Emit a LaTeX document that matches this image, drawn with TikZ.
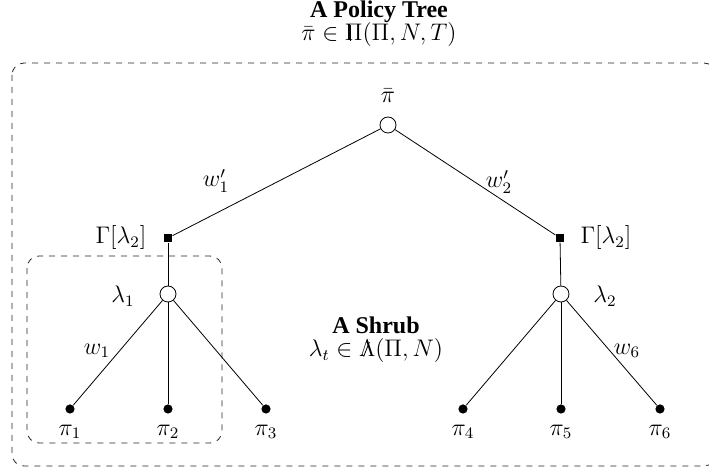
\documentclass[tikz,border=0pt]{standalone}
\usepackage{fontspec}
\setmainfont{Liberation Serif}
% double-struck capitals built from the upright Greek letters
\newcommand{\dsPi}{\mathord{\tikz[baseline=(s.base)]{\node[inner sep=0pt,outer sep=0pt] (s) {$\Pi$}; \draw[line width=0.4pt] ([xshift=0.24em,yshift=0.01em]s.base west) -- ++(0,0.66em);}}}
\newcommand{\dsLambda}{\mathord{\tikz[baseline=(s.base)]{\node[inner sep=0pt,outer sep=0pt] (s) {$\Lambda$}; \draw[line width=0.4pt] ([xshift=0.19em,yshift=0.01em]s.base west) -- ++(0.24em,0.6em);}}}
\begin{document}
\begin{tikzpicture}[x=0.5pt,y=-0.5pt,
  every node/.style={font=\large},
  choice/.style={circle,draw,fill=white,minimum size=8pt,inner sep=0pt},
  gate/.style={rectangle,fill=black,minimum size=4.2pt,inner sep=0pt},
  leaf/.style={circle,fill=black,minimum size=4.6pt,inner sep=0pt},
  lbl/.style={inner sep=1pt},
  caption/.style={inner sep=0pt,align=center},
  region/.style={draw=black!85,dashed,rounded corners=6pt}]
\useasboundingbox (0,0) rectangle (709,470);

% enclosing regions
\draw[region] (12,63) rectangle (716,466);
\draw[region] (27,256) rectangle (222,443);

% titles
\node[caption] (title) at (379,24)
  {\textbf{A Policy Tree}\\[-2.5pt]$\bar\pi \in \dsPi(\Pi, N, T)$};
\node[caption] (shrub) at (376,340)
  {\textbf{A Shrub}\\[-2.5pt]$\lambda_t \in \dsLambda(\Pi, N)$};

% tree nodes
\node[choice] (root) at (388,125) {};
\node[gate] (gl) at (168,238) {};
\node[gate] (gr) at (560,238) {};
\node[choice] (l1) at (168,294) {};
\node[choice] (l2) at (561,294) {};
\node[leaf] (p1) at (70,409) {};
\node[leaf] (p2) at (168,409) {};
\node[leaf] (p3) at (266,409) {};
\node[leaf] (p4) at (463,409) {};
\node[leaf] (p5) at (561,409) {};
\node[leaf] (p6) at (660,409) {};

% edges
\draw (root) -- (gl);
\draw (root) -- (gr);
\draw (gl) -- (l1);
\draw (gr) -- (l2);
\draw (l1) -- (p1);
\draw (l1) -- (p2);
\draw (l1) -- (p3);
\draw (l2) -- (p4);
\draw (l2) -- (p5);
\draw (l2) -- (p6);

% node labels
\node[lbl] (rootlbl) at (388,96) {$\bar\pi$};
\node[lbl] (gllbl) at (121,238) {$\Gamma[\lambda_2]$};
\node[lbl] (grlbl) at (606,238) {$\Gamma[\lambda_2]$};
\node[lbl] (l1lbl) at (123,296) {$\lambda_1$};
\node[lbl] (l2lbl) at (605,296) {$\lambda_2$};
\node[lbl] (p1lbl) at (70,432) {$\pi_1$};
\node[lbl] (p2lbl) at (168,432) {$\pi_2$};
\node[lbl] (p3lbl) at (266,432) {$\pi_3$};
\node[lbl] (p4lbl) at (463,432) {$\pi_4$};
\node[lbl] (p5lbl) at (561,432) {$\pi_5$};
\node[lbl] (p6lbl) at (660,432) {$\pi_6$};

% edge weights
\node[lbl] (w1p) at (216,181) {$w_1'$};
\node[lbl] (w2p) at (499,182) {$w_2'$};
\node[lbl] (w1) at (97,351) {$w_1$};
\node[lbl] (w6) at (627,351) {$w_6$};
\end{tikzpicture}
\end{document}
